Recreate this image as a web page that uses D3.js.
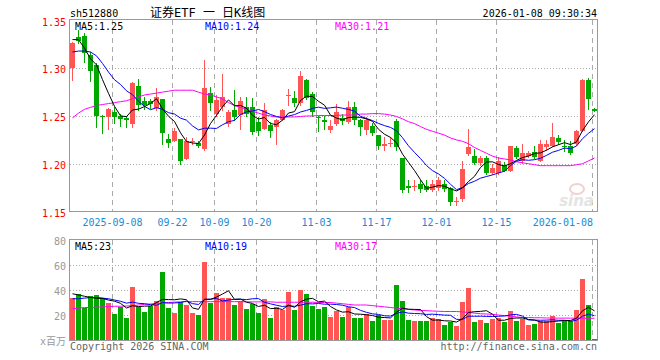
<!DOCTYPE html>
<html><head><meta charset="utf-8">
<script src="https://cdn.jsdelivr.net/npm/d3@7"></script>
<style>body{margin:0;background:#fff}svg{display:block}</style>
</head><body><svg id="c" width="660" height="360"></svg>
<script>
const dates = ["2025-08-28","2025-08-29","2025-09-01","2025-09-02","2025-09-03","2025-09-04","2025-09-05",
"2025-09-08","2025-09-09","2025-09-10","2025-09-11","2025-09-12","2025-09-15","2025-09-16","2025-09-17","2025-09-18","2025-09-19",
"2025-09-22","2025-09-23","2025-09-24","2025-09-25","2025-09-26","2025-09-29","2025-09-30",
"2025-10-09","2025-10-10","2025-10-13","2025-10-14","2025-10-15","2025-10-16","2025-10-17",
"2025-10-20","2025-10-21","2025-10-22","2025-10-23","2025-10-24","2025-10-27","2025-10-28","2025-10-29","2025-10-30","2025-10-31",
"2025-11-03","2025-11-04","2025-11-05","2025-11-06","2025-11-07","2025-11-10","2025-11-11","2025-11-12","2025-11-13","2025-11-14",
"2025-11-17","2025-11-18","2025-11-19","2025-11-20","2025-11-21","2025-11-24","2025-11-25","2025-11-26","2025-11-27","2025-11-28",
"2025-12-01","2025-12-02","2025-12-03","2025-12-04","2025-12-05","2025-12-08","2025-12-09","2025-12-10","2025-12-11","2025-12-12",
"2025-12-15","2025-12-16","2025-12-17","2025-12-18","2025-12-19","2025-12-22","2025-12-23","2025-12-24","2025-12-25","2025-12-26",
"2025-12-29","2025-12-30","2025-12-31","2026-01-05","2026-01-06","2026-01-07","2026-01-08"];

const open = [1.300,1.333,1.334,1.314,1.303,1.250,1.249,1.254,1.2495,1.2481,
1.2411,1.2819,1.2662,1.266,1.2586,1.2673,1.2261,1.2236,1.2261,1.2052,
1.2226,1.2216,1.2157,1.2739,1.2523,1.2592,1.2418,1.2565,1.2513,1.2592,
1.2592,1.2435,1.2366,1.2408,1.2390,1.2460,1.2712,1.2686,1.2634,1.2872,
1.2732,1.2487,1.2453,1.2358,1.2418,1.2481,1.2435,1.2599,1.2453,1.2355,
1.2400,1.2296,1.2181,1.2205,1.2445,1.2062,1.1772,1.1762,1.1783,1.1762,
1.1727,1.1748,1.1790,1.1748,1.1600,1.1632,1.2097,1.2086,1.2006,1.2062,
1.1901,1.1901,1.1982,1.1929,1.2167,1.2034,1.2076,1.2121,1.2034,1.2174,
1.2191,1.2271,1.2191,1.2181,1.2209,1.2348,1.2880,1.2575];
const high = [1.328,1.340,1.337,1.317,1.305,1.251,1.258,1.259,1.2526,1.2505,
1.2854,1.289,1.270,1.268,1.2795,1.2673,1.2313,1.2370,1.2261,1.2278,
1.2270,1.224,1.3088,1.2802,1.2715,1.2942,1.2560,1.2774,1.2697,1.2704,
1.2690,1.2488,1.2634,1.2435,1.2470,1.2575,1.2785,1.2757,1.2976,1.2890,
1.2750,1.2505,1.2505,1.2453,1.2627,1.2516,1.2662,1.2645,1.2471,1.2488,
1.2425,1.2306,1.2285,1.2278,1.2471,1.2062,1.1825,1.1825,1.1825,1.1832,
1.1825,1.1859,1.1825,1.1760,1.1650,1.2034,1.2366,1.2157,1.2086,1.2076,
1.1999,1.2069,1.2016,1.2191,1.2181,1.2202,1.2132,1.2181,1.2244,1.2244,
1.2425,1.2296,1.2244,1.2237,1.2355,1.2890,1.2900,1.2585];
const low = [1.288,1.326,1.307,1.287,1.238,1.232,1.236,1.2425,1.240,1.238,
1.238,1.2558,1.257,1.258,1.2558,1.2212,1.2173,1.2236,1.200,1.2052,
1.2210,1.218,1.2140,1.2558,1.2500,1.2558,1.2400,1.2453,1.2366,1.2495,
1.2310,1.2296,1.2360,1.2285,1.2209,1.2455,1.2610,1.2600,1.2620,1.2680,
1.2500,1.2348,1.2366,1.2330,1.2410,1.2418,1.2430,1.2418,1.2306,1.2313,
1.2296,1.2157,1.2139,1.2181,1.2146,1.1702,1.1702,1.1727,1.1700,1.1716,
1.1716,1.1727,1.1710,1.1570,1.1570,1.1615,1.2090,1.1999,1.1990,1.1890,
1.1895,1.1895,1.1922,1.1925,1.2060,1.2006,1.2070,1.2060,1.2030,1.2139,
1.2185,1.2212,1.2132,1.2097,1.2200,1.2340,1.2575,1.2550];
const close = [1.326,1.329,1.316,1.297,1.2495,1.249,1.257,1.2485,1.2467,1.2453,
1.2844,1.2610,1.2620,1.263,1.2697,1.2320,1.2219,1.2348,1.2034,1.2243,
1.2243,1.2191,1.2795,1.2634,1.2670,1.2704,1.2540,1.2487,1.2652,1.2523,
1.2330,1.2348,1.2565,1.2341,1.2460,1.2568,1.2722,1.2638,1.2924,1.2691,
1.2540,1.2477,1.2435,1.2400,1.2540,1.2446,1.2599,1.2460,1.2383,1.2460,
1.2320,1.2181,1.2202,1.2216,1.2180,1.1727,1.1748,1.1772,1.1738,1.1727,
1.1790,1.1832,1.1738,1.1600,1.1615,1.1947,1.2173,1.2006,1.2062,1.1901,
1.1958,1.2034,1.1929,1.2181,1.2069,1.2111,1.2111,1.2069,1.2209,1.2209,
1.2285,1.2226,1.2174,1.2111,1.2348,1.2880,1.2680,1.2550];
const volume = [33.3,36.8,25.3,35.2,36,33.3,29.9,20.8,26.7,17.3,
42.1,26.7,22.7,27.2,31.2,54.7,25.9,21.9,30.7,28,
21.9,20,62.7,29.9,37.3,33.9,33.3,28,31.2,24.8,
28.8,21.3,32.8,17.9,26.1,24,38.7,24,40,36.8,
27.2,24.8,26.7,18.4,23.2,18.4,26.4,17.6,17.6,21,
15.2,20,16,16,44,31.2,16,15.2,15.5,15.5,
17.3,16.5,12,14.7,11.2,30.7,41.9,14.7,16,13.9,
16.5,18,14.7,23.2,15.5,16.5,12,12.8,15,15,
19,14,15,15,24,48.8,28,0.8];

const ma5Lead = [1.330,1.330,1.321,1.310];
const ma10Lead = [1.317,1.318,1.318,1.317,1.313,1.305,1.296,1.288,1.283];
const ma30 = [1.248,1.253,1.257,1.259,1.261,1.262,1.263,1.264,1.265,1.266,
1.268,1.270,1.272,1.273,1.274,1.275,1.276,1.277,1.277,1.277,
1.277,1.275,1.273,1.272,1.270,1.268,1.264,1.261,1.259,1.257,
1.255,1.253,1.251,1.250,1.249,1.249,1.249,1.249,1.2495,1.250,
1.250,1.2505,1.2505,1.2505,1.2505,1.251,1.251,1.251,1.252,1.252,
1.2525,1.2525,1.252,1.251,1.2495,1.247,1.244,1.242,1.239,1.236,
1.234,1.232,1.230,1.227,1.225,1.2235,1.221,1.217,1.214,1.211,
1.208,1.206,1.205,1.204,1.202,1.201,1.200,1.199,1.198,1.198,
1.198,1.198,1.198,1.198,1.199,1.200,1.203,1.206];
const volMa5Lead = [37,36,35,34];
const volMa10Lead = [33,33,33.5,34,34,33.5,33,32,31];
const volMa30 = [25,25.5,26,26,26.3,26.5,26.7,27,27,27.2,
27.5,28,28.5,28.8,29.2,29.6,30,30.3,30.5,30.7,
30.7,30.7,30.7,30.7,30.7,30.7,30.7,30.7,30.7,30.5,
30.5,30.5,30.5,30.5,30.2,30.2,30.2,30.2,30.2,30.2,
30.2,30,30,30,29.5,29,28.5,28,28,28,
27.5,27,26.5,26,25.5,25,24.5,24,23.7,23.5,
23.2,23,22.8,22.8,22.8,22.5,22,21.5,21,20.8,
20.5,20,19.5,19,18.5,18,18,17.8,17.8,17.6,
17.6,17.5,17.5,17.5,17.4,17.4,17.4,17.4];

const priceTicks = [1.35,1.30,1.25,1.20,1.15];
const volTicks = [80,60,40,20];
const labelDates = ["2025-09-08","2025-09-22","2025-10-09","2025-10-20","2025-11-03","2025-11-17","2025-12-01","2025-12-15","2026-01-08"];

const title = "证券ETF 一 日K线图";
const code = "sh512880";
const stamp = "2026-01-08 09:30:34";

const RED = "#ff5555", GREEN = "#00a800";
const MONO = "'DejaVu Sans Mono','Liberation Mono','Noto Sans CJK SC',monospace";

function movingAvg(vals, n, lead){
  return vals.map((v,i)=> i < lead.length ? lead[i] : d3.mean(vals.slice(i-n+1,i+1)));
}
const ma5 = movingAvg(close,5,ma5Lead), ma10 = movingAvg(close,10,ma10Lead);
const vma5 = movingAvg(volume,5,volMa5Lead), vma10 = movingAvg(volume,10,volMa10Lead);

const L=70, R=598, PT=20, PB=211, VT=240, VB=340;
const svg = d3.select("#c");
const x = d3.scaleBand().domain(dates).range([L,R]).paddingInner(0).paddingOuter(0);
const y = d3.scaleLinear().domain([1.15,1.35]).range([PB+0.5,PT+0.5]);
const vy = d3.scaleLinear().domain([0,80]).range([VB,VT]);

const data = dates.map((d,i)=>({d,o:open[i],h:high[i],l:low[i],c:close[i],v:volume[i]}));
const col = d => d.c >= d.o ? RED : GREEN;

// grid
const g = svg.append("g");
function vgrid(top,bottom){
  g.selectAll(null).data(labelDates).enter().append("line")
   .attr("x1",d=>x(d)+0.5).attr("x2",d=>x(d)+0.5).attr("y1",top).attr("y2",bottom)
   .attr("stroke","#aaa").attr("stroke-dasharray","5,4");
}
vgrid(PT,PB); vgrid(VT,VB);
g.selectAll(null).data([1.30,1.25,1.20]).enter().append("line")
 .attr("x1",L).attr("x2",R-1).attr("y1",d=>Math.round(y(d))+0.5).attr("y2",d=>Math.round(y(d))+0.5)
 .attr("stroke","#aaa").attr("stroke-dasharray","1,2");
g.selectAll(null).data([60,40,20]).enter().append("line")
 .attr("x1",L).attr("x2",R-1).attr("y1",d=>Math.round(vy(d))+0.5).attr("y2",d=>Math.round(vy(d))+0.5)
 .attr("stroke","#aaa").attr("stroke-dasharray","1,2");

// watermark
svg.append("text").attr("x",594).attr("y",206).attr("text-anchor","end")
 .attr("font-family","'DejaVu Sans',sans-serif").attr("font-style","italic").attr("font-weight","bold")
 .attr("font-size",15).attr("fill","#e4e4e4").text("sina");
svg.append("ellipse").attr("cx",577).attr("cy",189).attr("rx",7).attr("ry",5)
 .attr("fill","none").attr("stroke","#f0d0d0").attr("stroke-width",2);

// candles
const cg = svg.append("g").attr("shape-rendering","crispEdges");
cg.selectAll(".w").data(data).enter().append("line")
 .attr("x1",d=>x(d.d)+2.5).attr("x2",d=>x(d.d)+2.5)
 .attr("y1",d=>Math.round(y(d.h))).attr("y2",d=>Math.round(y(d.l))+1)
 .attr("stroke",col);
cg.selectAll(".b").data(data).enter().append("rect")
 .attr("x",d=>x(d.d)).attr("width",5)
 .attr("y",d=>Math.round(y(Math.max(d.o,d.c))))
 .attr("height",d=>Math.max(1,Math.round(y(Math.min(d.o,d.c)))-Math.round(y(Math.max(d.o,d.c)))))
 .attr("fill",col);

// volume bars
cg.selectAll(".v").data(data).enter().append("rect")
 .attr("x",d=>x(d.d)).attr("width",5)
 .attr("y",d=>Math.round(vy(d.v))).attr("height",d=>VB-Math.round(vy(d.v)))
 .attr("fill",col);

// MA lines
const cx = i => x(dates[i]) + 2.5;
function maLine(arr, yy, color){
  svg.append("path").datum(arr)
   .attr("d", d3.line().x((v,i)=>cx(i)).y(v=>yy(v)))
   .attr("fill","none").attr("stroke",color).attr("stroke-width",1);
}
maLine(ma30,y,"#ff00ff"); maLine(ma10,y,"#0000ff"); maLine(ma5,y,"#000");
maLine(volMa30,vy,"#ff00ff"); maLine(vma10,vy,"#0000ff"); maLine(vma5,vy,"#000");

// borders
svg.append("rect").attr("x",L-0.5).attr("y",PT-0.5).attr("width",R-L).attr("height",PB-PT+1)
 .attr("fill","none").attr("stroke","#999");
svg.append("rect").attr("x",L-0.5).attr("y",VT-0.5).attr("width",R-L).attr("height",VB-VT+1)
 .attr("fill","none").attr("stroke","#999");

// texts
const t = (xx,yy,s,fill,anchor,size) => svg.append("text").attr("x",xx).attr("y",yy)
  .attr("text-anchor",anchor||"start").attr("dominant-baseline","central")
  .attr("font-family",MONO).attr("font-size",size||10).attr("fill",fill).text(s);

t(70,13,code,"#000");
t(150,12.5,title,"#000","start",12);
t(597,13,stamp,"#000","end");

priceTicks.forEach(v=>t(66,Math.round(y(v))+1,v.toFixed(2),"#ff0000","end"));
volTicks.forEach(v=>t(66,Math.round(vy(v))+1,String(v),"#999","end"));
t(66,341,"x百万","#999","end");

labelDates.forEach((d,i)=>{
  const last = i===labelDates.length-1, first = i===0;
  const s = (first||last) ? d : d.slice(5);
  t(last ? x(d)+1 : x(d)+0.5, 222, s, "#1a8ad4", last ? "end" : "middle");
});

const n = dates.length-1;
t(75,26,"MA5:"+ma5[n].toFixed(2),"#000");
t(205,26,"MA10:"+ma10[n].toFixed(2),"#0000ff");
t(335,26,"MA30:"+ma30[n].toFixed(2),"#ff00ff");
t(75,246,"MA5:"+Math.round(vma5[n]),"#000");
t(205,246,"MA10:"+Math.round(vma10[n]),"#0000ff");
t(335,246,"MA30:"+Math.round(volMa30[n]),"#ff00ff");

t(70,346,"Copyright 2026 SINA.COM","#666");
t(597,346,"http://finance.sina.com.cn","#666","end");
</script></body></html>
